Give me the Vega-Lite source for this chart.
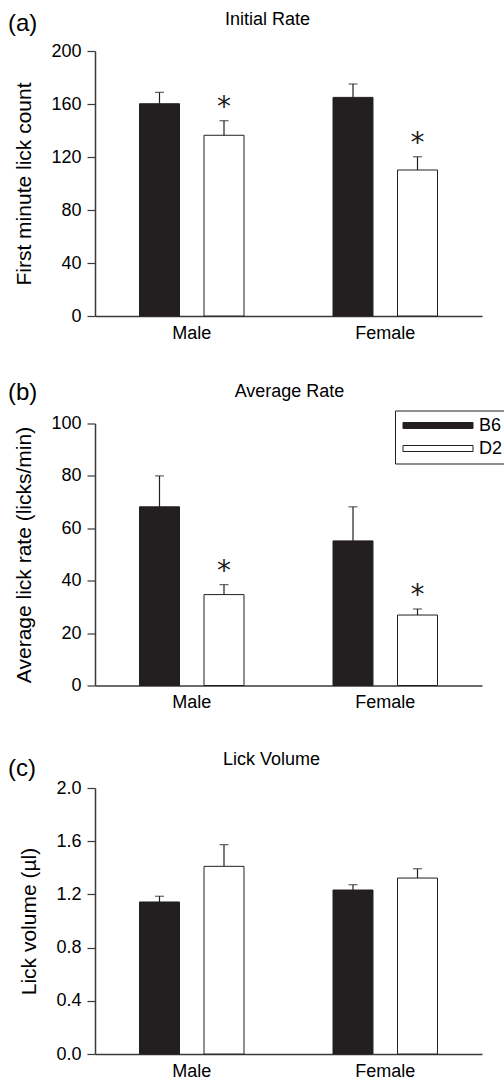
{
  "$schema": "https://vega.github.io/schema/vega-lite/v6.json",
  "padding": {"left": 8, "top": 10, "right": 0, "bottom": 0},
  "spacing": 38.5,
  "datasets": {
    "initial": [
      {"sex": "Male", "strain": "B6", "mean": 160.2, "err_top": 168.8, "sig": ""},
      {"sex": "Male", "strain": "D2", "mean": 136.4, "err_top": 147.4, "sig": "*"},
      {"sex": "Female", "strain": "B6", "mean": 165.0, "err_top": 175.1, "sig": ""},
      {"sex": "Female", "strain": "D2", "mean": 110.2, "err_top": 120.2, "sig": "*"}
    ],
    "average": [
      {"sex": "Male", "strain": "B6", "mean": 68.2, "err_top": 80.0, "sig": ""},
      {"sex": "Male", "strain": "D2", "mean": 34.7, "err_top": 38.5, "sig": "*"},
      {"sex": "Female", "strain": "B6", "mean": 55.2, "err_top": 68.2, "sig": ""},
      {"sex": "Female", "strain": "D2", "mean": 26.9, "err_top": 29.2, "sig": "*"}
    ],
    "volume": [
      {"sex": "Male", "strain": "B6", "mean": 1.143, "err_top": 1.186, "sig": ""},
      {"sex": "Male", "strain": "D2", "mean": 1.411, "err_top": 1.574, "sig": ""},
      {"sex": "Female", "strain": "B6", "mean": 1.233, "err_top": 1.273, "sig": ""},
      {"sex": "Female", "strain": "D2", "mean": 1.323, "err_top": 1.393, "sig": ""}
    ]
  },
  "resolve": {"scale": {"color": "independent"}, "legend": {"color": "independent"}},
  "vconcat": [
    {
      "width": 387, "height": 265,
      "title": {"text": "(a)", "dy": 30},
      "data": {"name": "initial"},
      "layer": [
        {
          "mark": {"type": "bar", "stroke": "#231f20", "strokeWidth": 1},
          "encoding": {
            "x": {"field": "sex", "type": "nominal", "sort": ["Male", "Female"], "scale": {"paddingInner": 0, "paddingOuter": 0}, "axis": {"title": null, "labelAngle": 0, "ticks": false, "labelPadding": 8}},
            "xOffset": {"field": "strain", "type": "nominal", "sort": ["B6", "D2"], "scale": {"paddingInner": 0.38, "paddingOuter": 0.69}},
            "y": {"field": "mean", "type": "quantitative", "scale": {"domain": [0, 200]}, "title": "First minute lick count", "axis": {"values": [0, 40, 80, 120, 160, 200]}},
            "color": {"field": "strain", "type": "nominal", "scale": {"domain": ["B6", "D2"], "range": ["#231f20", "#ffffff"]}, "legend": null}
          }
        },
        {
          "mark": {"type": "rule", "color": "#231f20", "strokeWidth": 1.2},
          "encoding": {
            "x": {"field": "sex", "type": "nominal", "sort": ["Male", "Female"], "axis": {"orient": "top", "title": "Initial Rate", "labels": false, "ticks": false, "domain": false, "titleX": 172, "titleY": -27, "titleBaseline": "alphabetic", "titleFontSize": 18}},
            "xOffset": {"field": "strain", "type": "nominal", "sort": ["B6", "D2"]},
            "y": {"field": "mean", "type": "quantitative", "title": "First minute lick count"},
            "y2": {"field": "err_top"}
          }
        },
        {
          "mark": {"type": "tick", "color": "#231f20", "size": 9, "thickness": 1.2},
          "encoding": {
            "x": {"field": "sex", "type": "nominal", "sort": ["Male", "Female"], "axis": null},
            "xOffset": {"field": "strain", "type": "nominal", "sort": ["B6", "D2"]},
            "y": {"field": "err_top", "type": "quantitative", "title": "First minute lick count"}
          }
        },
        {
          "mark": {"type": "text", "fontSize": 28, "font": "DejaVu Sans", "baseline": "alphabetic", "dy": -5, "color": "#231f20"},
          "encoding": {
            "x": {"field": "sex", "type": "nominal", "sort": ["Male", "Female"], "axis": null},
            "xOffset": {"field": "strain", "type": "nominal", "sort": ["B6", "D2"]},
            "y": {"field": "err_top", "type": "quantitative", "title": "First minute lick count"},
            "text": {"field": "sig"}
          }
        }
      ],
      "resolve": {"axis": {"x": "independent"}}
    },
    {
      "width": 387, "height": 262,
      "title": {"text": "(b)", "dy": 26},
      "data": {"name": "average"},
      "layer": [
        {
          "mark": {"type": "bar", "stroke": "#231f20", "strokeWidth": 1},
          "encoding": {
            "x": {"field": "sex", "type": "nominal", "sort": ["Male", "Female"], "scale": {"paddingInner": 0, "paddingOuter": 0}, "axis": {"title": null, "labelAngle": 0, "ticks": false, "labelPadding": 8}},
            "xOffset": {"field": "strain", "type": "nominal", "sort": ["B6", "D2"], "scale": {"paddingInner": 0.38, "paddingOuter": 0.69}},
            "y": {"field": "mean", "type": "quantitative", "scale": {"domain": [0, 100]}, "title": "Average lick rate (licks/min)", "axis": {"values": [0, 20, 40, 60, 80, 100]}},
            "color": {"field": "strain", "type": "nominal", "scale": {"domain": ["B6", "D2"], "range": ["#231f20", "#ffffff"]},
              "legend": {"title": null, "orient": "none", "legendX": 300, "legendY": -13, "symbolType": "M-1,-0.43H9V0.43H-1Z", "symbolSize": 196, "symbolStrokeColor": "#231f20", "symbolStrokeWidth": 1, "labelFontSize": 18, "labelColor": "#000", "labelOffset": 60, "padding": 6, "strokeColor": "#231f20", "rowPadding": 5}}
          }
        },
        {
          "mark": {"type": "rule", "color": "#231f20", "strokeWidth": 1.2},
          "encoding": {
            "x": {"field": "sex", "type": "nominal", "sort": ["Male", "Female"], "axis": {"orient": "top", "title": "Average Rate", "labels": false, "ticks": false, "domain": false, "titleX": 194, "titleY": -27, "titleBaseline": "alphabetic", "titleFontSize": 18}},
            "xOffset": {"field": "strain", "type": "nominal", "sort": ["B6", "D2"]},
            "y": {"field": "mean", "type": "quantitative", "title": "Average lick rate (licks/min)"},
            "y2": {"field": "err_top"}
          }
        },
        {
          "mark": {"type": "tick", "color": "#231f20", "size": 9, "thickness": 1.2},
          "encoding": {
            "x": {"field": "sex", "type": "nominal", "sort": ["Male", "Female"], "axis": null},
            "xOffset": {"field": "strain", "type": "nominal", "sort": ["B6", "D2"]},
            "y": {"field": "err_top", "type": "quantitative", "title": "Average lick rate (licks/min)"}
          }
        },
        {
          "mark": {"type": "text", "fontSize": 28, "font": "DejaVu Sans", "baseline": "alphabetic", "dy": -5, "color": "#231f20"},
          "encoding": {
            "x": {"field": "sex", "type": "nominal", "sort": ["Male", "Female"], "axis": null},
            "xOffset": {"field": "strain", "type": "nominal", "sort": ["B6", "D2"]},
            "y": {"field": "err_top", "type": "quantitative", "title": "Average lick rate (licks/min)"},
            "text": {"field": "sig"}
          }
        }
      ],
      "resolve": {"axis": {"x": "independent"}}
    },
    {
      "width": 387, "height": 266,
      "title": {"text": "(c)", "dy": 35},
      "data": {"name": "volume"},
      "layer": [
        {
          "mark": {"type": "bar", "stroke": "#231f20", "strokeWidth": 1},
          "encoding": {
            "x": {"field": "sex", "type": "nominal", "sort": ["Male", "Female"], "scale": {"paddingInner": 0, "paddingOuter": 0}, "axis": {"title": null, "labelAngle": 0, "ticks": false, "labelPadding": 8}},
            "xOffset": {"field": "strain", "type": "nominal", "sort": ["B6", "D2"], "scale": {"paddingInner": 0.38, "paddingOuter": 0.69}},
            "y": {"field": "mean", "type": "quantitative", "scale": {"domain": [0, 2]}, "title": "Lick volume (µl)", "axis": {"values": [0, 0.4, 0.8, 1.2, 1.6, 2.0], "format": ".1f"}},
            "color": {"field": "strain", "type": "nominal", "scale": {"domain": ["B6", "D2"], "range": ["#231f20", "#ffffff"]}, "legend": null}
          }
        },
        {
          "mark": {"type": "rule", "color": "#231f20", "strokeWidth": 1.2},
          "encoding": {
            "x": {"field": "sex", "type": "nominal", "sort": ["Male", "Female"], "axis": {"orient": "top", "title": "Lick Volume", "labels": false, "ticks": false, "domain": false, "titleX": 176, "titleY": -24, "titleBaseline": "alphabetic", "titleFontSize": 18}},
            "xOffset": {"field": "strain", "type": "nominal", "sort": ["B6", "D2"]},
            "y": {"field": "mean", "type": "quantitative", "title": "Lick volume (µl)"},
            "y2": {"field": "err_top"}
          }
        },
        {
          "mark": {"type": "tick", "color": "#231f20", "size": 9, "thickness": 1.2},
          "encoding": {
            "x": {"field": "sex", "type": "nominal", "sort": ["Male", "Female"], "axis": null},
            "xOffset": {"field": "strain", "type": "nominal", "sort": ["B6", "D2"]},
            "y": {"field": "err_top", "type": "quantitative", "title": "Lick volume (µl)"}
          }
        }
      ],
      "resolve": {"axis": {"x": "independent"}}
    }
  ],
  "config": {
    "font": "Liberation Sans",
    "view": {"stroke": null},
    "axis": {"grid": false, "domainColor": "#3a3a3a", "tickColor": "#3a3a3a", "domainWidth": 1.5, "tickWidth": 1.2, "tickSize": 8, "labelPadding": 6, "labelColor": "#000", "titleColor": "#000", "labelFontSize": 18, "titleFontSize": 21, "titleFontWeight": "normal", "titlePadding": 16},
    "title": {"fontSize": 24, "fontWeight": "normal", "anchor": "start", "frame": "group", "dx": -87, "color": "#000"}
  }
}
